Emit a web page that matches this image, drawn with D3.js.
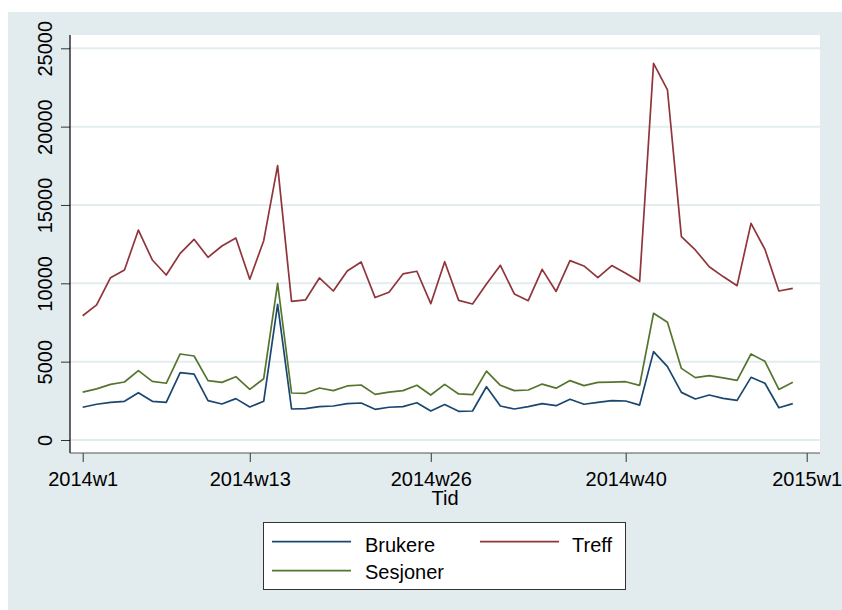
<!DOCTYPE html>
<html><head><meta charset="utf-8">
<script src="https://cdn.jsdelivr.net/npm/d3@7"></script>
<style>body{margin:0;background:#fff}svg{display:block}text{font-family:"Liberation Sans",Arial,sans-serif;fill:#000}</style>
</head><body><svg id="c" width="842" height="610"></svg>
<script>
const weeks = d3.range(1, 53);
const brukere = [2090,2280,2400,2470,3020,2470,2400,4300,4210,2510,2300,2640,2110,2470,8660,1980,2000,2130,2170,2320,2360,1960,2090,2130,2380,1850,2260,1830,1850,3400,2170,1980,2130,2320,2190,2600,2280,2400,2510,2490,2230,5640,4680,3040,2620,2870,2660,2530,4000,3620,2060,2320];
const treff = [7930,8620,10360,10850,13400,11490,10530,11910,12810,11660,12380,12890,10260,12720,17510,8850,8940,10340,9510,10790,11360,9090,9430,10600,10770,8700,11380,8910,8680,9960,11150,9320,8890,10890,9480,11450,11110,10360,11130,10640,10110,24040,22340,12980,12130,11060,10430,9850,13830,12170,9510,9680];
const sesjoner = [3060,3260,3550,3700,4430,3740,3620,5490,5360,3790,3680,4040,3230,3910,10000,3000,2980,3320,3150,3450,3510,2910,3060,3150,3490,2870,3550,2940,2890,4400,3490,3150,3190,3570,3310,3790,3470,3680,3700,3720,3490,8090,7510,4570,3980,4110,3960,3810,5490,5020,3230,3680];
const xTickWeeks = [1, 13, 26, 40, 53];
const xTickLabels = ["2014w1","2014w13","2014w26","2014w40","2015w1"];
const yTicks = [0,5000,10000,15000,20000,25000];
const seriesNames = ["Brukere","Treff","Sesjoner"];
const colors = {Brukere:"#1a476f", Treff:"#90353b", Sesjoner:"#55752f"};

const svg = d3.select("#c");
svg.append("rect").attr("x",8).attr("y",12).attr("width",834).attr("height",598).attr("fill","#e2ebed");
const L=70,R=820,T=35,B=453;
svg.append("rect").attr("x",L).attr("y",T).attr("width",R-L).attr("height",B-T).attr("fill","#fff");

const x = d3.scaleLinear().domain([1,53]).range([82.7,806.7]);
const y = d3.scaleLinear().domain([0,25000]).range([440,48.3]);

// gridlines
svg.append("g").selectAll("line").data(yTicks).join("line")
  .attr("x1",L).attr("x2",R).attr("y1",d=>y(d)).attr("y2",d=>y(d))
  .attr("stroke","#e3edef").attr("stroke-width",2);

// axes
const yAxis = d3.axisLeft(y).tickValues(yTicks).tickSize(9).tickFormat(d3.format("d"));
const gy = svg.append("g").attr("transform",`translate(${L},0)`).call(yAxis);
gy.select(".domain").remove();
gy.selectAll(".tick line").attr("stroke","#333");
gy.selectAll(".tick text").attr("font-size",20).attr("text-anchor","middle")
  .attr("transform",d=>`translate(${52-L+ (0)},${0}) rotate(-90)`).attr("x",0).attr("dy",0).attr("y",0);
gy.selectAll(".tick text").each(function(){});
svg.append("line").attr("x1",L).attr("x2",L).attr("y1",T).attr("y2",B).attr("stroke","#000").attr("stroke-width",1.2);

const xAxis = d3.axisBottom(x).tickValues(xTickWeeks).tickSize(9).tickFormat((d,i)=>xTickLabels[i]);
const gx = svg.append("g").attr("transform",`translate(0,${B})`).call(xAxis);
gx.select(".domain").remove();
gx.selectAll(".tick line").attr("stroke","#333");
gx.selectAll(".tick text").attr("font-size",20).attr("y",33).attr("dy",0);
svg.append("line").attr("x1",L).attr("x2",R).attr("y1",B).attr("y2",B).attr("stroke","#555").attr("stroke-width",1.2);
svg.append("text").attr("x",445).attr("y",505).attr("text-anchor","middle").attr("font-size",20).text("Tid");

// lines
const data = {Brukere:brukere, Treff:treff, Sesjoner:sesjoner};
const line = d3.line().x((d,i)=>x(weeks[i])).y(d=>y(d));
["Treff","Sesjoner","Brukere"].forEach(n=>{
  svg.append("path").attr("d",line(data[n])).attr("fill","none").attr("stroke",colors[n]).attr("stroke-width",1.7).attr("stroke-linejoin","round");
});

// legend
const lg = svg.append("g");
lg.append("rect").attr("x",263.5).attr("y",522.5).attr("width",362).attr("height",67).attr("fill","#fff").attr("stroke","#333");
const items = [{n:"Brukere",lx:272,ly:541.7,tx:365,ty:551.5},{n:"Treff",lx:480,ly:541.7,tx:572,ty:551.5},{n:"Sesjoner",lx:272,ly:570.7,tx:365,ty:578.5}];
items.forEach(it=>{
  lg.append("line").attr("x1",it.lx).attr("x2",it.lx+79).attr("y1",it.ly).attr("y2",it.ly).attr("stroke",colors[it.n]).attr("stroke-width",1.7);
  lg.append("text").attr("x",it.tx).attr("y",it.ty).attr("font-size",20).text(it.n);
});
</script></body></html>
